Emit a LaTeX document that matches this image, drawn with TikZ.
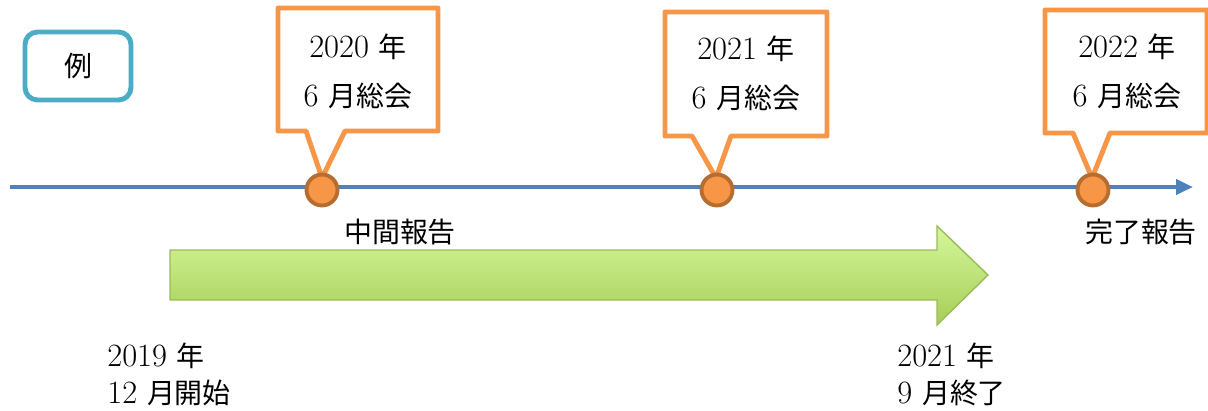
\documentclass[tikz,border=0pt]{standalone}
\usepackage{fontspec}
\newfontfamily\jp[Scale=0.86]{Noto Sans CJK JP}
\newcommand{\J}[1]{{\jp #1}}
\usetikzlibrary{arrows.meta}
\definecolor{teal}{HTML}{4BACC6}
\definecolor{tlblue}{HTML}{4F81BD}
\definecolor{orng}{HTML}{F79646}
\definecolor{orngdk}{HTML}{B66D31}
\definecolor{grtop}{HTML}{D4F79B}
\definecolor{grbot}{HTML}{A6CE58}
\definecolor{grline}{HTML}{9BBB59}
\tikzset{
  lbl/.style={font=\fontsize{18.5}{28}\selectfont, inner sep=0pt, align=center},
  lbll/.style={font=\fontsize{18.5}{20.5}\selectfont, inner sep=0pt, align=left, anchor=base west},
  callout/.style={draw=orng, line width=2.8pt, fill=white, line join=round},
  dot/.style={circle, draw=orngdk, fill=orng, line width=2.2pt, minimum size=0.62cm, inner sep=0pt},
}
\begin{document}
\begin{tikzpicture}[x=0.02cm, y=-0.02cm]
\useasboundingbox (0,0) rectangle (1208,410);
% example box
\node[draw=teal, line width=2.8pt, rounded corners=0.25cm, minimum width=2.12cm, minimum height=1.36cm, font=\fontsize{18.5}{20}\selectfont] (ex) at (78,66) {\J{例}};
% timeline
\coordinate (ts) at (10,187);
\coordinate (te) at (1193,187);
\draw[tlblue, line width=2.8pt, -{Triangle[length=0.34cm, width=0.3cm]}] (ts) -- (te);
% callouts
\path[callout] (278,8) -- (438,8) -- (438,131) -- (345,131) -- (322,178) -- (306,131) -- (278,131) -- cycle;
\path[callout] (665,12) -- (827,12) -- (827,136) -- (731,136) -- (716,178) -- (692,136) -- (665,136) -- cycle;
\path[callout] (1045,10) -- (1207,10) -- (1207,133) -- (1110,133) -- (1092,178) -- (1073,133) -- (1045,133) -- cycle;
\node[lbl] (c1) at (358,71) {2020 \J{年}\\6 \J{月総会}};
\node[lbl] (c2) at (746,73) {2021 \J{年}\\6 \J{月総会}};
\node[lbl] (c3) at (1127,71) {2022 \J{年}\\6 \J{月総会}};
% dots
\node[dot] (d1) at (322,190) {};
\node[dot] (d2) at (717,190) {};
\node[dot] (d3) at (1093,190) {};
% labels
\node[lbl] (mid) at (400,232) {\J{中間報告}};
\node[lbl] (fin) at (1141,232) {\J{完了報告}};
% green arrow
\path[draw=grline, line width=0.8pt, top color=grtop, bottom color=grbot] (170,250) -- (937,250) -- (937,226) -- (988,275) -- (937,325) -- (937,300) -- (170,300) -- cycle;
% bottom labels
\node[lbll] (st) at (107,403) {2019 \J{年}\\12 \J{月開始}};
\node[lbll] (en) at (897,403) {2021 \J{年}\\9 \J{月終了}};
\end{tikzpicture}
\end{document}
